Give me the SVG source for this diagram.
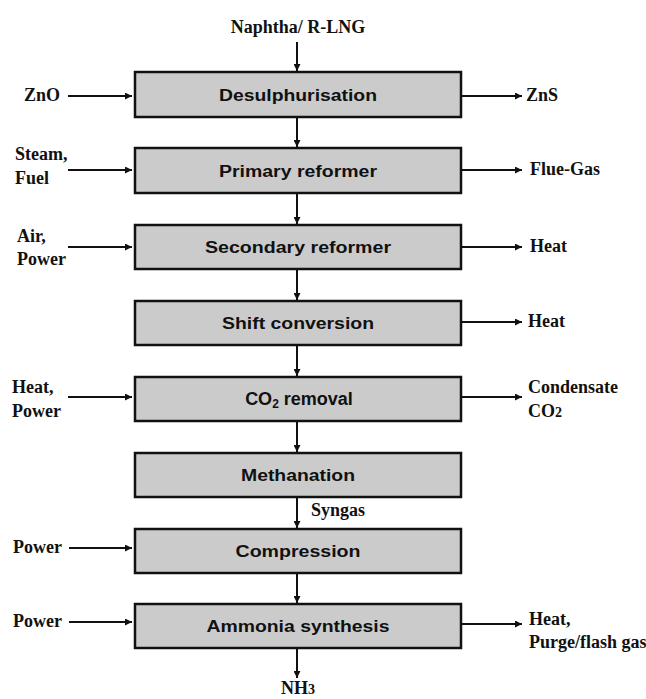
<svg xmlns="http://www.w3.org/2000/svg" width="646" height="699" viewBox="0 0 646 699">
<defs>
<marker id="ah" viewBox="0 0 10 10" refX="10" refY="5" markerWidth="9" markerHeight="7" markerUnits="userSpaceOnUse" orient="auto">
<path d="M0,0 L10,5 L0,10 z" fill="#111"/>
</marker>
<style>
.box{fill:#cbcbcb;stroke:#111;stroke-width:2.5}
.bl{font-family:"Liberation Sans",Arial,sans-serif;font-weight:bold;font-size:16px;fill:#111;text-anchor:middle}
.lb{font-family:"Liberation Serif","Times New Roman",serif;font-weight:bold;font-size:18px;fill:#111}
.c{stroke:#111;stroke-width:2;fill:none;marker-end:url(#ah)}
</style>
</defs>
<rect width="646" height="699" fill="#fff"/>
<g id="connectors">
<line class="c" x1="297" y1="42" x2="297" y2="71"/>
<line class="c" x1="297" y1="117" x2="297" y2="147"/>
<line class="c" x1="297" y1="193" x2="297" y2="224"/>
<line class="c" x1="297" y1="270" x2="297" y2="300"/>
<line class="c" x1="297" y1="346" x2="297" y2="376"/>
<line class="c" x1="297" y1="422" x2="297" y2="452"/>
<line class="c" x1="297" y1="498" x2="297" y2="528"/>
<line class="c" x1="297" y1="574" x2="297" y2="603"/>
<line class="c" x1="297" y1="649" x2="297" y2="678"/>
<line class="c" x1="68" y1="96" x2="132" y2="96"/>
<line class="c" x1="68" y1="170" x2="132" y2="170"/>
<line class="c" x1="68" y1="247" x2="132" y2="247"/>
<line class="c" x1="68" y1="397" x2="132" y2="397"/>
<line class="c" x1="69" y1="548" x2="132" y2="548"/>
<line class="c" x1="69" y1="622" x2="132" y2="622"/>
<line class="c" x1="462" y1="96" x2="522" y2="96"/>
<line class="c" x1="462" y1="170" x2="522" y2="170"/>
<line class="c" x1="462" y1="247" x2="522" y2="247"/>
<line class="c" x1="462" y1="322" x2="522" y2="322"/>
<line class="c" x1="462" y1="397" x2="522" y2="397"/>
<line class="c" x1="462" y1="624" x2="522" y2="624"/>
</g>
<g id="desulphurisation"><rect class="box" x="135" y="72" width="326" height="45"/><text class="bl" x="298" y="101" textLength="158" lengthAdjust="spacingAndGlyphs">Desulphurisation</text></g>
<g id="primary-reformer"><rect class="box" x="135" y="148" width="326" height="45"/><text class="bl" x="298" y="177" textLength="158" lengthAdjust="spacingAndGlyphs">Primary reformer</text></g>
<g id="secondary-reformer"><rect class="box" x="135" y="225" width="326" height="44"/><text class="bl" x="298" y="253" textLength="186" lengthAdjust="spacingAndGlyphs">Secondary reformer</text></g>
<g id="shift-conversion"><rect class="box" x="135" y="301" width="326" height="44"/><text class="bl" x="298" y="329" textLength="152" lengthAdjust="spacingAndGlyphs">Shift conversion</text></g>
<g id="co2-removal"><rect class="box" x="135" y="377" width="326" height="44"/><text class="bl" x="299" y="405" style="font-size:18px">CO<tspan style="font-size:12px" dy="3">2</tspan><tspan dy="-3"> removal</tspan></text></g>
<g id="methanation"><rect class="box" x="135" y="453" width="326" height="44"/><text class="bl" x="298" y="481" textLength="114" lengthAdjust="spacingAndGlyphs">Methanation</text></g>
<g id="compression"><rect class="box" x="135" y="529" width="326" height="44"/><text class="bl" x="298" y="557" textLength="125" lengthAdjust="spacingAndGlyphs">Compression</text></g>
<g id="ammonia-synthesis"><rect class="box" x="135" y="604" width="326" height="44"/><text class="bl" x="298" y="632" textLength="183" lengthAdjust="spacingAndGlyphs">Ammonia synthesis</text></g>
<g id="labels">
<text class="lb" x="298" y="33" text-anchor="middle">Naphtha/ R-LNG</text>
<text class="lb" x="24" y="101">ZnO</text>
<text class="lb" x="526" y="101">ZnS</text>
<text class="lb" x="15" y="160">Steam,</text>
<text class="lb" x="15" y="184">Fuel</text>
<text class="lb" x="530" y="175">Flue-Gas</text>
<text class="lb" x="17" y="242">Air,</text>
<text class="lb" x="17" y="265">Power</text>
<text class="lb" x="530" y="252">Heat</text>
<text class="lb" x="528" y="327">Heat</text>
<text class="lb" x="12" y="393">Heat,</text>
<text class="lb" x="12" y="417">Power</text>
<text class="lb" x="528" y="393">Condensate</text>
<text class="lb" x="528" y="417">CO<tspan style="font-size:14px">2</tspan></text>
<text class="lb" x="311" y="516">Syngas</text>
<text class="lb" x="13" y="553">Power</text>
<text class="lb" x="13" y="627">Power</text>
<text class="lb" x="529" y="625">Heat,</text>
<text class="lb" x="529" y="648">Purge/flash gas</text>
<text class="lb" x="298" y="694" text-anchor="middle">NH<tspan style="font-size:14px">3</tspan></text>
</g>
</svg>
